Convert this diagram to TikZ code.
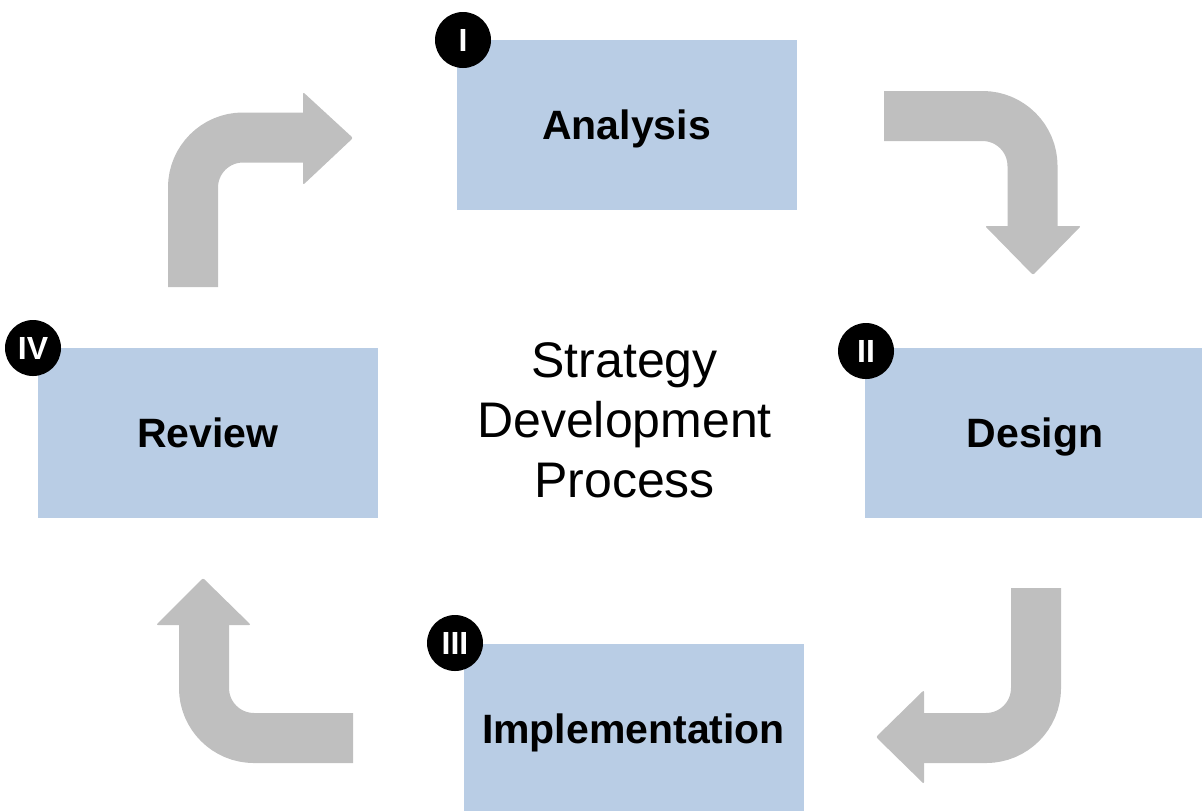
\documentclass[tikz,border=0pt]{standalone}
\usepackage{fontspec}
\setmainfont{Liberation Sans}
\definecolor{stagefill}{HTML}{B9CDE5}
\definecolor{flowgray}{HTML}{BFBFBF}
\begin{document}
\begin{tikzpicture}[x=0.5pt,y=-0.5pt,
  stage/.style={fill=stagefill, minimum width=170pt, minimum height=85pt,
    inner sep=0pt, text depth=0pt, font=\bfseries\fontsize{20.5}{24}\selectfont},
  badge/.style={circle, fill=black, minimum size=28pt, inner sep=0pt,
    text=white, font=\bfseries\fontsize{16}{18}\selectfont},
  shaft/.style={draw=flowgray, line width=25pt, rounded corners=25pt},
  head/.style={fill=flowgray, rounded corners=1pt}]
\useasboundingbox (0,0) rectangle (1202,810);

% bent arrows between the stages
\coordinate (tlA) at (193,287);
\coordinate (tlB) at (193,137.5);
\coordinate (tlC) at (304,137.5);
\draw[shaft] (tlA) -- (tlB) -- (tlC);
\fill[head] (303,92) -- (353,138) -- (303,185) -- cycle;

\coordinate (trA) at (884,116);
\coordinate (trB) at (1032.5,116);
\coordinate (trC) at (1032.5,227);
\draw[shaft] (trA) -- (trB) -- (trC);
\fill[head] (985,226) -- (1081,226) -- (1033,275) -- cycle;

\coordinate (brA) at (1036,588);
\coordinate (brB) at (1036,738);
\coordinate (brC) at (923,738);
\draw[shaft] (brA) -- (brB) -- (brC);
\fill[head] (924,690) -- (924,784) -- (876,737) -- cycle;

\coordinate (blA) at (353,738);
\coordinate (blB) at (204,738);
\coordinate (blC) at (204,624);
\draw[shaft] (blA) -- (blB) -- (blC);
\fill[head] (156,625) -- (251,625) -- (203,578) -- cycle;

% stages
\node[stage] (analysis) at (626.5,125) {Analysis};
\node[stage] (design) at (1035,432.5) {Design};
\node[stage] (implementation) at (633.5,729) {Implementation};
\node[stage] (review) at (208,432.5) {Review};

% numbered badges
\node[badge] (b1) at (463,40) {I};
\node[badge] (b2) at (866,351) {II};
\node[badge] (b3) at (455,643) {III};
\node[badge] (b4) at (33,348) {IV};

% centre caption
\node[align=center, inner sep=0pt, font=\fontsize{25}{30}\selectfont]
  (title) at (624.5,420) {Strategy\\Development\\Process};
\end{tikzpicture}
\end{document}
